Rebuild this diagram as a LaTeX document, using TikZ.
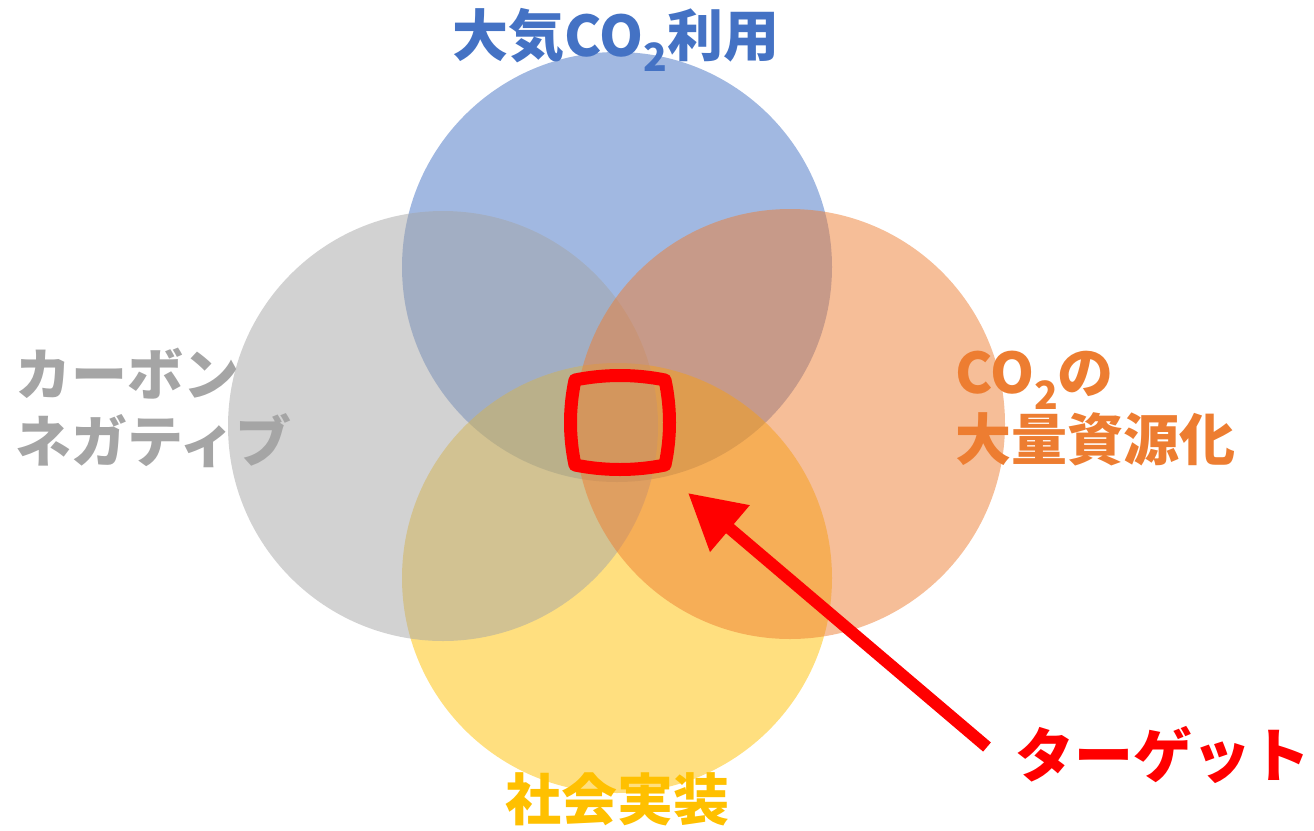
\documentclass[tikz,border=0pt]{standalone}
\usepackage{fontspec}
\newfontfamily\jp{Noto Sans CJK JP}
\usetikzlibrary{arrows.meta}
\definecolor{cblue}{HTML}{4472C4}
\definecolor{cgray}{HTML}{A5A5A5}
\definecolor{corange}{HTML}{ED7D31}
\definecolor{cyellow}{HTML}{FFC000}
\definecolor{cred}{HTML}{FF0000}
\newcommand{\subtwo}{\raisebox{-0.28em}{\fontsize{39}{39}\selectfont 2}}
\begin{document}
\begin{tikzpicture}[x=1pt,y=-1pt,
  venn/.style={circle, minimum size=430pt, inner sep=0pt, fill opacity=0.5},
  lbl/.style={font=\jp\bfseries\fontsize{56}{67}\selectfont, inner sep=0pt, align=left},
  targetline/.style={draw=cred, line width=13pt, line join=round},
  pointer/.style={draw=cred, line width=12pt, -{Triangle[length=55pt,width=58pt]}}]
\useasboundingbox (0,0) rectangle (1314,830);
% circles
\node[venn, fill=cblue]   (blue)   at (617,267) {};
\node[venn, fill=cyellow] (yellow) at (617,578) {};
\node[venn, fill=cgray]   (gray)   at (443,426) {};
\node[venn, fill=corange] (orange) at (790,424) {};
% labels
\node[lbl, text=cblue] (tblue) at (616,40) {大気CO\subtwo 利用};
\node[lbl, text=cgray, anchor=west] (tgray) at (15,408) {カーボン\\ネガティブ};
\node[lbl, text=corange, anchor=west] (torange) at (955,409) {CO\subtwo の\\大量資源化};
\node[lbl, text=cyellow] (tyellow) at (617,799) {社会実装};
\node[lbl, text=cred, font=\jp\bfseries\fontsize{59}{67}\selectfont] (ttarget) at (1163,755) {ターゲット};
% target region
\coordinate (tl) at (575,380);
\coordinate (tr) at (665,380);
\coordinate (br) at (665,465);
\coordinate (bl) at (575,465);
\draw[targetline] (tl) .. controls (605,374) and (635,374) .. (tr)
  .. controls (671,408) and (671,437) .. (br)
  .. controls (635,471) and (605,471) .. (bl)
  .. controls (569,437) and (569,408) .. cycle;
% pointer
\coordinate (tail) at (987,747);
\coordinate (tip) at (688,493);
\draw[pointer] (tail) -- (tip);
\end{tikzpicture}
\end{document}
